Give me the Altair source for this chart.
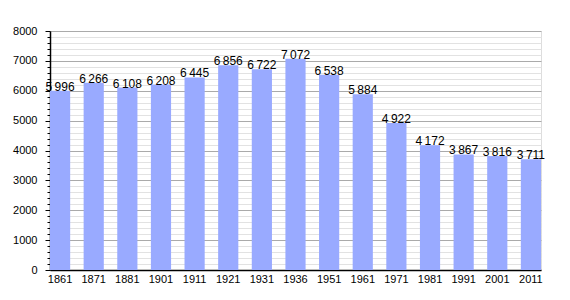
import altair as alt
import pandas as pd

years = ["1861", "1871", "1881", "1901", "1911", "1921", "1931", "1936",
         "1951", "1961", "1971", "1981", "1991", "2001", "2011"]
population = [5996, 6266, 6108, 6208, 6445, 6856, 6722, 7072,
              6538, 5884, 4922, 4172, 3867, 3816, 3711]
y_ticks = list(range(0, 8001, 200))

df = pd.DataFrame({"year": years, "pop": population})
FONT = "Liberation Sans"

x = alt.X("year:N", sort=years, title=None,
          scale=alt.Scale(paddingInner=0.4, paddingOuter=0),
          axis=alt.Axis(labelAngle=0, ticks=False, domainColor="black",
                        domainWidth=1.5, labelFont=FONT, labelFontSize=11,
                        labelColor="black", labelPadding=3))

y = alt.Y("pop:Q", title=None,
          scale=alt.Scale(domain=[0, 8000], nice=False),
          axis=alt.Axis(values=y_ticks, labelOverlap=False,
                        labelExpr="datum.value % 1000 === 0 ? datum.value : ''",
                        grid=True,
                        gridColor={"condition": {"test": "datum.value % 1000 === 0", "value": "#aaaaaa"}, "value": "#e2e2e2"},
                        gridWidth=1,
                        tickColor="black",
                        tickSize={"condition": {"test": "datum.value % 1000 === 0", "value": 5}, "value": 3},
                        domainColor="black", domainWidth=1.5,
                        labelFont=FONT, labelFontSize=11, labelColor="black",
                        labelPadding=8))

bars = alt.Chart(df).mark_bar(color="#99aaff").encode(x=x, y=y)

labels = alt.Chart(df).transform_calculate(
    lab="replace(format(datum.pop, ','), ',', '\u2009')"
).mark_text(baseline="bottom", dy=3, font=FONT, fontSize=12, color="black").encode(
    x=x,
    y=y,
    text="lab:N",
)

chart = alt.layer(bars, labels).properties(
    width=491, height=239,
    autosize=alt.AutoSizeParams(type="none"),
    padding={"left": 50, "top": 31, "right": 29, "bottom": 30},
).configure_view(stroke=None).configure(background="white")

chart.save("out.html", embed_options={"renderer": "svg", "actions": False})
